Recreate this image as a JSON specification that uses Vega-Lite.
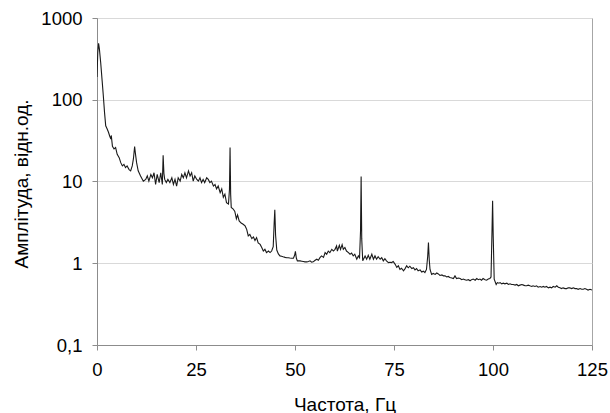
{
  "$schema": "https://vega.github.io/schema/vega-lite/v6.json",
  "width": 495,
  "height": 327,
  "autosize": {"type": "none"},
  "padding": {"left": 97, "top": 18, "right": 18, "bottom": 68},
  "background": "white",
  "config": {
    "font": "Liberation Sans",
    "view": {"stroke": "#a6a6a6", "strokeWidth": 1},
    "axis": {
      "labelFont": "Liberation Sans",
      "titleFont": "Liberation Sans",
      "labelFontSize": 18.5,
      "titleFontSize": 19,
      "titleFontWeight": "normal",
      "labelColor": "#000",
      "titleColor": "#000",
      "domainColor": "#8c8c8c",
      "tickColor": "#8c8c8c",
      "tickSize": 5,
      "gridColor": "#d9d9d9",
      "labelFlush": false,
      "labelOverlap": false
    }
  },
  "data": {
    "values": [
      {"f": 0, "a": 190}, {"f": 0.2, "a": 380}, {"f": 0.4, "a": 490}, {"f": 0.6, "a": 420},
      {"f": 0.93, "a": 285}, {"f": 1.3, "a": 170}, {"f": 1.6, "a": 111}, {"f": 1.9, "a": 70},
      {"f": 2.2, "a": 48}, {"f": 2.6, "a": 43.5}, {"f": 2.9, "a": 40}, {"f": 3.2, "a": 36},
      {"f": 3.5, "a": 33}, {"f": 3.6, "a": 36.6}, {"f": 3.9, "a": 27}, {"f": 4.3, "a": 25},
      {"f": 4.7, "a": 26}, {"f": 5.1, "a": 21.5}, {"f": 5.6, "a": 19.6}, {"f": 6.0, "a": 17},
      {"f": 6.4, "a": 15.5}, {"f": 6.8, "a": 16.2}, {"f": 7.2, "a": 14.8}, {"f": 7.6, "a": 15.5},
      {"f": 8.1, "a": 14}, {"f": 8.5, "a": 13.5}, {"f": 8.9, "a": 15.5}, {"f": 9.2, "a": 19},
      {"f": 9.5, "a": 26.8}, {"f": 9.75, "a": 21}, {"f": 10.0, "a": 17}, {"f": 10.4, "a": 13.5},
      {"f": 11.0, "a": 11.7}, {"f": 11.7, "a": 10.1}, {"f": 12.3, "a": 10.6}, {"f": 12.7, "a": 11.7},
      {"f": 13.1, "a": 10.1}, {"f": 13.6, "a": 12.2}, {"f": 14.0, "a": 11.1}, {"f": 14.4, "a": 12.8},
      {"f": 14.8, "a": 9.2}, {"f": 15.2, "a": 12.2}, {"f": 15.7, "a": 9.7}, {"f": 16.1, "a": 12.8},
      {"f": 16.5, "a": 9.2}, {"f": 16.7, "a": 20.9}, {"f": 16.9, "a": 12.5}, {"f": 17.1, "a": 10.6},
      {"f": 17.5, "a": 9.7}, {"f": 17.9, "a": 10.6}, {"f": 18.4, "a": 9.7}, {"f": 18.9, "a": 11.1},
      {"f": 19.3, "a": 9.2}, {"f": 19.7, "a": 10.6}, {"f": 20.1, "a": 8.8}, {"f": 20.5, "a": 11.1},
      {"f": 21.0, "a": 10.1}, {"f": 21.4, "a": 12.2}, {"f": 21.8, "a": 11.1}, {"f": 22.2, "a": 12.8},
      {"f": 22.6, "a": 11.1}, {"f": 23.1, "a": 13.5}, {"f": 23.5, "a": 11.7}, {"f": 23.9, "a": 12.8},
      {"f": 24.3, "a": 10.1}, {"f": 24.7, "a": 11.7}, {"f": 25.2, "a": 10.6}, {"f": 25.6, "a": 10.1},
      {"f": 26.0, "a": 11.1}, {"f": 26.4, "a": 9.7}, {"f": 26.8, "a": 10.6}, {"f": 27.2, "a": 9.7},
      {"f": 27.7, "a": 11.1}, {"f": 28.1, "a": 10.6}, {"f": 28.5, "a": 9.7}, {"f": 28.9, "a": 10.1},
      {"f": 29.4, "a": 8.8}, {"f": 29.8, "a": 9.2}, {"f": 30.2, "a": 8.1}, {"f": 30.6, "a": 8.8},
      {"f": 31.1, "a": 7.3}, {"f": 31.5, "a": 8.1}, {"f": 31.9, "a": 6.4}, {"f": 32.3, "a": 7.0},
      {"f": 32.7, "a": 5.5}, {"f": 33.2, "a": 5.3}, {"f": 33.45, "a": 8}, {"f": 33.6, "a": 26},
      {"f": 33.75, "a": 7}, {"f": 33.9, "a": 4.8}, {"f": 34.4, "a": 4.6}, {"f": 34.8, "a": 4.3},
      {"f": 35.2, "a": 3.5}, {"f": 35.5, "a": 3.9}, {"f": 35.9, "a": 3.3}, {"f": 36.4, "a": 3.1},
      {"f": 36.9, "a": 3.0}, {"f": 37.4, "a": 2.86}, {"f": 37.8, "a": 2.6}, {"f": 38.2, "a": 2.16},
      {"f": 38.6, "a": 2.25}, {"f": 39.1, "a": 2.0}, {"f": 39.5, "a": 2.1}, {"f": 39.9, "a": 1.9},
      {"f": 40.3, "a": 2.06}, {"f": 40.7, "a": 1.77}, {"f": 41.2, "a": 1.7}, {"f": 41.6, "a": 1.56},
      {"f": 42.0, "a": 1.41}, {"f": 42.4, "a": 1.48}, {"f": 42.8, "a": 1.35}, {"f": 43.3, "a": 1.41},
      {"f": 43.7, "a": 1.35}, {"f": 44.1, "a": 1.41}, {"f": 44.5, "a": 1.6}, {"f": 44.75, "a": 3.2},
      {"f": 44.9, "a": 4.5}, {"f": 45.1, "a": 2.2}, {"f": 45.4, "a": 1.45}, {"f": 45.8, "a": 1.3},
      {"f": 46.2, "a": 1.23}, {"f": 46.6, "a": 1.22}, {"f": 47.0, "a": 1.2}, {"f": 47.5, "a": 1.18},
      {"f": 47.9, "a": 1.17}, {"f": 48.3, "a": 1.17}, {"f": 48.7, "a": 1.16}, {"f": 49.2, "a": 1.15},
      {"f": 49.6, "a": 1.15}, {"f": 49.9, "a": 1.25}, {"f": 50.1, "a": 1.4}, {"f": 50.35, "a": 1.15},
      {"f": 50.6, "a": 1.07}, {"f": 51.3, "a": 1.07}, {"f": 51.7, "a": 1.06}, {"f": 52.1, "a": 1.05},
      {"f": 52.5, "a": 1.04}, {"f": 53.0, "a": 1.04}, {"f": 53.4, "a": 1.05}, {"f": 53.8, "a": 1.07},
      {"f": 54.2, "a": 1.03}, {"f": 54.6, "a": 1.04}, {"f": 55.0, "a": 1.08}, {"f": 55.5, "a": 1.12},
      {"f": 55.9, "a": 1.09}, {"f": 56.3, "a": 1.17}, {"f": 56.7, "a": 1.23}, {"f": 57.2, "a": 1.18},
      {"f": 57.6, "a": 1.35}, {"f": 58.0, "a": 1.29}, {"f": 58.4, "a": 1.41}, {"f": 58.8, "a": 1.35},
      {"f": 59.3, "a": 1.48}, {"f": 59.7, "a": 1.41}, {"f": 60.1, "a": 1.48}, {"f": 60.5, "a": 1.63},
      {"f": 60.7, "a": 1.41}, {"f": 61.2, "a": 1.66}, {"f": 61.5, "a": 1.48}, {"f": 61.9, "a": 1.69},
      {"f": 62.2, "a": 1.48}, {"f": 62.6, "a": 1.56}, {"f": 63.0, "a": 1.41}, {"f": 63.5, "a": 1.35},
      {"f": 63.9, "a": 1.29}, {"f": 64.3, "a": 1.33}, {"f": 64.7, "a": 1.23}, {"f": 65.1, "a": 1.29},
      {"f": 65.6, "a": 1.12}, {"f": 66.0, "a": 1.23}, {"f": 66.3, "a": 1.17}, {"f": 66.55, "a": 2.5},
      {"f": 66.7, "a": 11.5}, {"f": 66.85, "a": 2.0}, {"f": 67.1, "a": 1.07}, {"f": 67.7, "a": 1.23},
      {"f": 68.1, "a": 1.12}, {"f": 68.5, "a": 1.25}, {"f": 68.9, "a": 1.12}, {"f": 69.4, "a": 1.29},
      {"f": 69.8, "a": 1.12}, {"f": 70.2, "a": 1.23}, {"f": 70.6, "a": 1.12}, {"f": 71.0, "a": 1.2},
      {"f": 71.5, "a": 1.12}, {"f": 71.9, "a": 1.17}, {"f": 72.3, "a": 1.07}, {"f": 72.7, "a": 1.14},
      {"f": 73.1, "a": 1.07}, {"f": 73.6, "a": 1.02}, {"f": 74.0, "a": 1.03}, {"f": 74.4, "a": 1.02},
      {"f": 74.8, "a": 1.05}, {"f": 75.3, "a": 0.97}, {"f": 75.7, "a": 0.89}, {"f": 76.1, "a": 0.93},
      {"f": 76.5, "a": 0.84}, {"f": 76.9, "a": 0.87}, {"f": 77.4, "a": 0.81}, {"f": 77.8, "a": 0.86},
      {"f": 78.2, "a": 0.93}, {"f": 78.6, "a": 0.88}, {"f": 79.0, "a": 0.92}, {"f": 79.5, "a": 0.86},
      {"f": 79.9, "a": 0.88}, {"f": 80.3, "a": 0.83}, {"f": 80.7, "a": 0.86}, {"f": 81.1, "a": 0.81},
      {"f": 81.6, "a": 0.83}, {"f": 82.0, "a": 0.78}, {"f": 82.4, "a": 0.8}, {"f": 82.8, "a": 0.77},
      {"f": 83.2, "a": 0.84}, {"f": 83.5, "a": 1.2}, {"f": 83.7, "a": 1.79}, {"f": 83.9, "a": 1.1},
      {"f": 84.1, "a": 0.84}, {"f": 84.5, "a": 0.73}, {"f": 84.9, "a": 0.75}, {"f": 85.4, "a": 0.73},
      {"f": 85.8, "a": 0.76}, {"f": 86.2, "a": 0.74}, {"f": 86.6, "a": 0.71}, {"f": 87.1, "a": 0.72},
      {"f": 87.5, "a": 0.70}, {"f": 87.9, "a": 0.70}, {"f": 88.3, "a": 0.68}, {"f": 88.7, "a": 0.69},
      {"f": 89.1, "a": 0.67}, {"f": 89.6, "a": 0.66}, {"f": 90.0, "a": 0.65}, {"f": 90.4, "a": 0.70},
      {"f": 90.8, "a": 0.65}, {"f": 91.3, "a": 0.66}, {"f": 91.7, "a": 0.65}, {"f": 92.1, "a": 0.63},
      {"f": 92.5, "a": 0.64}, {"f": 92.9, "a": 0.63}, {"f": 93.3, "a": 0.62}, {"f": 93.8, "a": 0.63},
      {"f": 94.2, "a": 0.61}, {"f": 94.6, "a": 0.63}, {"f": 95.0, "a": 0.64}, {"f": 95.5, "a": 0.62},
      {"f": 95.9, "a": 0.65}, {"f": 96.3, "a": 0.63}, {"f": 96.7, "a": 0.64}, {"f": 97.1, "a": 0.62},
      {"f": 97.5, "a": 0.65}, {"f": 98.0, "a": 0.63}, {"f": 98.4, "a": 0.62}, {"f": 98.8, "a": 0.64},
      {"f": 99.2, "a": 0.65}, {"f": 99.5, "a": 0.68}, {"f": 99.75, "a": 2.5}, {"f": 99.9, "a": 5.8},
      {"f": 100.05, "a": 2.2}, {"f": 100.3, "a": 0.64}, {"f": 100.8, "a": 0.55}, {"f": 101.1, "a": 0.58},
      {"f": 101.5, "a": 0.57}, {"f": 101.8, "a": 0.58}, {"f": 102.2, "a": 0.56}, {"f": 102.6, "a": 0.57},
      {"f": 103.0, "a": 0.56}, {"f": 103.5, "a": 0.57}, {"f": 103.9, "a": 0.55}, {"f": 104.3, "a": 0.56},
      {"f": 104.7, "a": 0.55}, {"f": 105.1, "a": 0.55}, {"f": 105.6, "a": 0.54}, {"f": 106.0, "a": 0.55},
      {"f": 106.4, "a": 0.53}, {"f": 106.8, "a": 0.54}, {"f": 107.3, "a": 0.55}, {"f": 107.7, "a": 0.54},
      {"f": 108.1, "a": 0.53}, {"f": 108.5, "a": 0.53}, {"f": 108.9, "a": 0.54}, {"f": 109.3, "a": 0.53},
      {"f": 109.8, "a": 0.52}, {"f": 110.1, "a": 0.53}, {"f": 110.6, "a": 0.52}, {"f": 111.0, "a": 0.53},
      {"f": 111.4, "a": 0.51}, {"f": 111.9, "a": 0.52}, {"f": 112.3, "a": 0.51}, {"f": 112.7, "a": 0.52},
      {"f": 113.1, "a": 0.51}, {"f": 113.5, "a": 0.52}, {"f": 114.0, "a": 0.50}, {"f": 114.4, "a": 0.51},
      {"f": 114.8, "a": 0.50}, {"f": 115.2, "a": 0.52}, {"f": 115.7, "a": 0.51}, {"f": 116.1, "a": 0.53},
      {"f": 116.5, "a": 0.51}, {"f": 116.9, "a": 0.50}, {"f": 117.3, "a": 0.49}, {"f": 117.7, "a": 0.50},
      {"f": 118.2, "a": 0.49}, {"f": 118.6, "a": 0.49}, {"f": 119.0, "a": 0.50}, {"f": 119.4, "a": 0.50},
      {"f": 119.8, "a": 0.49}, {"f": 120.3, "a": 0.50}, {"f": 120.7, "a": 0.49}, {"f": 121.1, "a": 0.49},
      {"f": 121.5, "a": 0.48}, {"f": 122.0, "a": 0.49}, {"f": 122.4, "a": 0.48}, {"f": 122.8, "a": 0.48},
      {"f": 123.2, "a": 0.49}, {"f": 123.6, "a": 0.48}, {"f": 124.0, "a": 0.47}, {"f": 124.5, "a": 0.48},
      {"f": 125.0, "a": 0.47}
    ]
  },
  "mark": {"type": "line", "color": "#1a1a1a", "strokeWidth": 1.1, "clip": true},
  "encoding": {
    "x": {
      "field": "f",
      "type": "quantitative",
      "scale": {"domain": [0, 125], "nice": false, "zero": false},
      "axis": {
        "values": [0, 25, 50, 75, 100, 125],
        "grid": false,
        "labelPadding": 10,
        "title": "Частота, Гц",
        "titleX": 247.5,
        "titleY": 65,
        "titleAlign": "center",
        "titleBaseline": "alphabetic"
      }
    },
    "y": {
      "field": "a",
      "type": "quantitative",
      "scale": {"type": "log", "domain": [0.1, 1000], "nice": false},
      "axis": {
        "values": [0.1, 1, 10, 100, 1000],
        "labelExpr": "datum.value < 1 ? '0,1' : format(datum.value, 'd')",
        "grid": true,
        "labelPadding": 10,
        "title": "Амплітуда, відн.од.",
        "titleX": -70,
        "titleY": 165.5,
        "titleAlign": "center",
        "titleBaseline": "alphabetic"
      }
    }
  }
}
